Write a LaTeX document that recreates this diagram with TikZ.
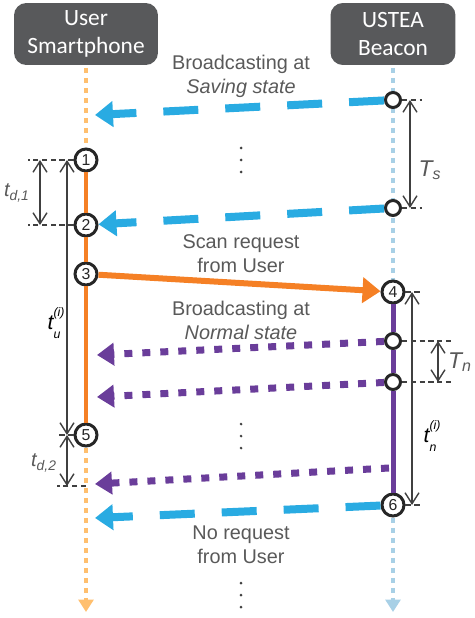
\documentclass[tikz,border=0pt]{standalone}
\usepackage{fontspec}
\setmainfont{Liberation Sans}
\newfontfamily\headfont{Carlito}
\usetikzlibrary{positioning,arrows.meta}

\definecolor{boxgray}{HTML}{58595B}
\definecolor{txtgray}{HTML}{595959}
\definecolor{circgray}{HTML}{262626}
\definecolor{dimgray}{HTML}{404040}
\definecolor{usrorange}{HTML}{F58025}
\definecolor{lightorange}{HTML}{FFBF6E}
\definecolor{beaconblue}{HTML}{29ABE2}
\definecolor{lightblue}{HTML}{A8D0E6}
\definecolor{normalpurple}{HTML}{6A3D9A}

% t with stacked sub- and superscript
\newcommand{\tstack}[3]{#1\makebox[0pt][l]{\raisebox{1.15ex}{\scriptsize#3}}\raisebox{-0.85ex}{\scriptsize#2}}

\begin{document}
\begin{tikzpicture}[x=0.02cm, y=-0.02cm,
    header/.style={fill=boxgray, rounded corners=7pt, text=white, align=center,
        font=\headfont\fontsize{13.3}{16}\selectfont, minimum height=1.24cm},
    evt/.style={circle, draw=circgray, line width=1.7pt, fill=white, inner sep=0pt,
        minimum size=0.44cm, text=circgray, font=\fontsize{9}{9}\selectfont},
    slot/.style={circle, draw=circgray, line width=1.7pt, fill=white, inner sep=0pt,
        minimum size=0.3cm},
    msg/.style={text=txtgray, align=center, font=\fontsize{11.3}{13.6}\selectfont},
    lifeline/.style={line width=2.3pt, dash pattern=on 0.1cm off 0.1cm,
        -{Triangle[length=0.25cm,width=0.3cm]}},
    bcast/.style={beaconblue, line width=0.16cm, dash pattern=on 0.7cm off 0.54cm,
        -{Triangle[length=0.36cm,width=0.5cm]}},
    nbcast/.style={normalpurple, line width=0.14cm, dash pattern=on 0.16cm off 0.2cm,
        -{Triangle[length=0.34cm,width=0.44cm]}},
    dim/.style={dimgray, line width=0.8pt,
        {Straight Barb[length=0.22cm,width=0.28cm]}-{Straight Barb[length=0.22cm,width=0.28cm]}},
    guide/.style={dimgray, line width=0.8pt, dash pattern=on 3pt off 2pt},
    dimlbl/.style={text=txtgray, font=\itshape\fontsize{11.3}{13}\selectfont}
]
    \useasboundingbox (0,0) rectangle (474,618);

    % Headers
    \node[header, minimum width=2.88cm] (phone) at (86,34) {User\\Smartphone};
    \node[header, minimum width=2.5cm] (beacon) at (393,34) {USTEA\\Beacon};

    % Lifelines
    \coordinate (ptop) at (86,68);
    \coordinate (pbot) at (86,612);
    \coordinate (btop) at (393,68);
    \coordinate (bbot) at (393,612);
    \draw[lifeline, lightorange] (ptop) -- (pbot);
    \draw[lifeline, lightblue] (btop) -- (bbot);

    % Events on the phone side
    \node[evt] (e1) at (86,160) {1};
    \node[evt] (e2) at (86,225) {2};
    \node[evt] (e3) at (86,274) {3};
    \node[evt] (e5) at (86,435) {5};

    % Events on the beacon side
    \node[slot] (s1) at (393,100) {};
    \node[slot] (s2) at (393,208) {};
    \node[evt] (e4) at (393,292) {4};
    \node[slot] (s3) at (393,341) {};
    \node[slot] (s4) at (393,382) {};
    \node[evt] (e6) at (393,505) {6};

    % Active periods
    \draw[usrorange, line width=0.08cm] (e1) -- (e2);
    \draw[usrorange, line width=0.08cm] (e2) -- (e3);
    \draw[usrorange, line width=0.08cm] (e3) -- (e5);
    \draw[normalpurple, line width=0.1cm] (e4) -- (s3);
    \draw[normalpurple, line width=0.1cm] (s3) -- (s4);
    \draw[normalpurple, line width=0.1cm] (s4) -- (e6);

    % Messages
    \coordinate (a1) at (95,115);
    \coordinate (a3) at (95,518);
    \coordinate (p1) at (97,355);
    \coordinate (p2) at (97,397);
    \coordinate (p3s) at (389,468);
    \coordinate (p3) at (95,484);
    \draw[bcast] (s1) -- (a1);
    \draw[bcast] (s2) -- (e2);
    \draw[bcast] (e6) -- (a3);
    \draw[nbcast] (s3) -- (p1);
    \draw[nbcast] (s4) -- (p2);
    \draw[nbcast] (p3s) -- (p3);
    \draw[usrorange, line width=0.12cm, -{Triangle[length=0.36cm,width=0.5cm]}] (e3) -- (e4);

    % Message labels
    \node[msg] (savlbl) at (241,76) {Broadcasting at\\\textit{Saving state}};
    \node[msg] (reqlbl) at (241,254) {Scan request\\from User};
    \node[msg] (norlbl) at (241,320) {Broadcasting at\\\textit{Normal state}};
    \node[msg] (noreqlbl) at (241,545) {No request\\from User};

    % Vertical ellipses
    \foreach \y in {160,436,595}
        \foreach \d in {-12,0,12}
            \fill[dimgray] (241,\y+\d) circle (0.03cm);

    % Left timings
    \coordinate (g1) at (28,160);
    \coordinate (g2) at (28,225);
    \coordinate (g5) at (57,435);
    \coordinate (g7a) at (86,486);
    \coordinate (g7) at (57,486);
    \draw[guide] (e1) -- (g1);
    \draw[guide] (e2) -- (g2);
    \draw[guide] (e5) -- (g5);
    \draw[guide] (g7a) -- (g7);
    \coordinate (td1a) at (40,160);
    \coordinate (td1b) at (40,225);
    \coordinate (tua) at (67,160);
    \coordinate (tub) at (67,435);
    \coordinate (td2b) at (67,486);
    \draw[dim] (td1a) -- (td1b);
    \draw[dim] (tua) -- (tub);
    \draw[dim] (tub) -- (td2b);
    \node[dimlbl] (td1lbl) at (17,193) {t\textsubscript{d,1}};
    \node[font=\itshape\fontsize{12}{13}\selectfont] (tulbl) at (54,323) {\tstack{t}{u}{(i)}};
    \node[dimlbl] (td2lbl) at (44,463) {t\textsubscript{d,2}};

    % Right timings
    \coordinate (h1) at (422,100);
    \coordinate (h2) at (422,208);
    \coordinate (h3) at (452,341);
    \coordinate (h4) at (452,382);
    \coordinate (h5) at (422,292);
    \coordinate (h6) at (422,505);
    \draw[guide] (s1) -- (h1);
    \draw[guide] (s2) -- (h2);
    \draw[guide] (s3) -- (h3);
    \draw[guide] (s4) -- (h4);
    \draw[guide] (e4) -- (h5);
    \draw[guide] (e6) -- (h6);
    \coordinate (tsa) at (410,100);
    \coordinate (tsb) at (410,208);
    \coordinate (tna) at (438,341);
    \coordinate (tnb) at (438,382);
    \coordinate (tia) at (412,292);
    \coordinate (tib) at (412,505);
    \draw[dim] (tsa) -- (tsb);
    \draw[dim] (tna) -- (tnb);
    \draw[dim] (tia) -- (tib);
    \node[dimlbl, font=\itshape\fontsize{13}{14}\selectfont] (tslbl) at (430,170) {T\textsubscript{s}};
    \node[dimlbl, font=\itshape\fontsize{13}{14}\selectfont] (tnlbl) at (460,362) {T\textsubscript{n}};
    \node[font=\itshape\fontsize{12}{13}\selectfont] (tnilbl) at (430,436) {\tstack{t}{n}{(i)}};
\end{tikzpicture}
\end{document}
